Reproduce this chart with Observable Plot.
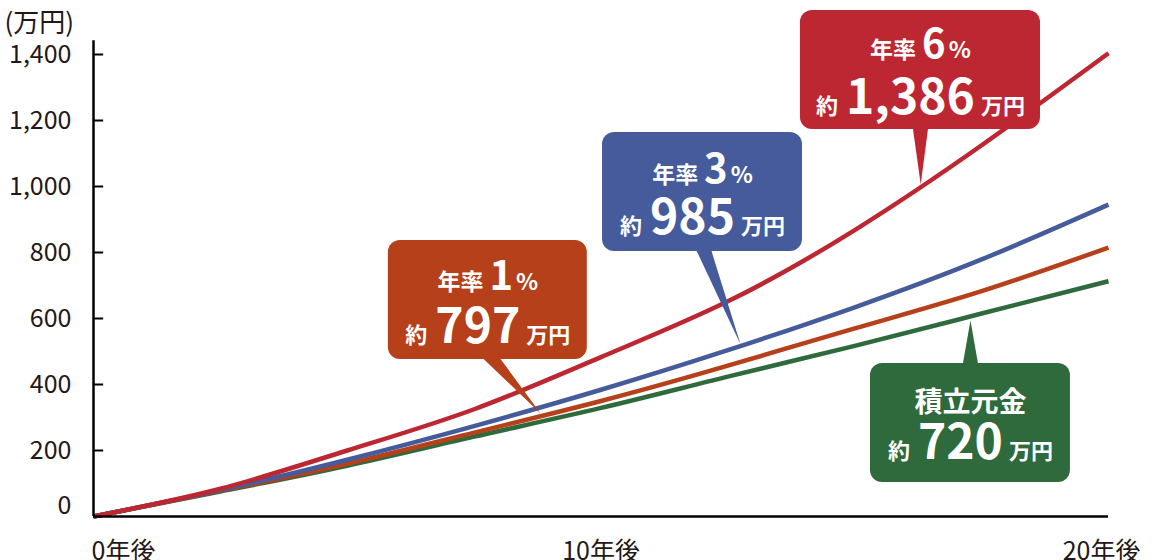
<!DOCTYPE html>
<html>
<head>
<meta charset="utf-8">
<script src="https://cdn.jsdelivr.net/npm/d3@7"></script>
<script src="https://cdn.jsdelivr.net/npm/@observablehq/plot@0.6"></script>
<style>
html, body { margin: 0; padding: 0; background: #fff; }
#chart svg { display: block; }
</style>
</head>
<body>
<div id="chart"></div>
<script>
// ---- data ----
const years     = [0, 2.5, 5, 7.5, 10, 12.5, 15, 17.5, 20];
const principal = [0, 76, 154, 242, 329, 424, 517, 615, 713];   // 積立元金
const rate1     = [0, 78, 160, 254, 350, 457, 570, 683, 815];   // 年率1%
const rate3     = [0, 80, 172, 274, 384, 504, 634, 779, 945];   // 年率3%
const rate6     = [0, 84, 200, 325, 483, 652, 868, 1125, 1404]; // 年率6%
const seriesValues = [principal, rate1, rate3, rate6];
const seriesColors = ["#2F6A3D", "#B5401A", "#455B9B", "#BC2732"];

const yTicks = [0, 200, 400, 600, 800, 1000, 1200, 1400];
const xTicks = [0, 10, 20];
const xTickLabels = ["0年後", "10年後", "20年後"];
const unitLabel = "(万円)";

// ---- callouts (order: 元金, 1%, 3%, 6%) ----
const calloutLine1 = ["積立元金", "年率|1|%", "年率|3|%", "年率|6|%"];
const calloutLine2 = ["約|720|万円", "約|797|万円", "約|985|万円", "約|1,386|万円"];
const boxX1     = [15.31, 5.81, 10.03, 13.93];
const boxX2     = [19.25, 9.73, 13.97, 18.66];
const boxTop    = [463.6, 836.4, 1163.6, 1533];
const boxBottom = [103, 475.8, 803, 1172.7];
const pointerX1 = [17.12, 7.63, 11.86, 16.14];
const pointerX2 = [17.44, 7.98, 12.16, 16.45];
const tipX      = [17.28, 8.81, 12.75, 16.30];
const tipY      = [594, 312, 521, 1006];
const line1Dy   = [48, 50, 50, 47];
const line2Dy   = [95, 103, 101, 103];

const FONT = "'Noto Sans CJK JP', 'Noto Sans', sans-serif";
const INK = "#231815";

const lineMarks = seriesValues.map((vals, s) =>
  Plot.line(years.map((t, i) => ({t, v: vals[i]})), {
    x: "t", y: "v", stroke: seriesColors[s], strokeWidth: 4.5,
    curve: "natural", strokeLinecap: "butt"
  })
);

const calloutMarks = calloutLine2.flatMap((_, i) => {
  const above = tipY[i] > boxTop[i];
  const baseY = above ? boxTop[i] - 10 : boxBottom[i] + 10;
  const tri = [
    {x: pointerX1[i], y: baseY},
    {x: tipX[i], y: tipY[i]},
    {x: pointerX2[i], y: baseY}
  ];
  const cx = (boxX1[i] + boxX2[i]) / 2;
  const isPlain = !calloutLine1[i].includes("|");
  return [
    Plot.rect([i], {x1: d => boxX1[d], x2: d => boxX2[d], y1: d => boxBottom[d], y2: d => boxTop[d],
      fill: seriesColors[i], rx: 12}),
    Plot.line(tri, {x: "x", y: "y", fill: seriesColors[i], stroke: "none"}),
    Plot.text([calloutLine1[i]], {x: cx, y: boxTop[i], dy: line1Dy[i], text: d => d,
      lineAnchor: "bottom", textAnchor: "middle", fill: "#fff", fontWeight: 700,
      fontSize: isPlain ? 28 : 23, fontFamily: FONT}),
    Plot.text([calloutLine2[i]], {x: cx, y: boxTop[i], dy: line2Dy[i], text: d => d,
      lineAnchor: "bottom", textAnchor: "middle", fill: "#fff", fontWeight: 700,
      fontSize: 22, fontFamily: FONT})
  ];
});

const chart = Plot.plot({
  width: 1170,
  height: 560,
  marginLeft: 93,
  marginRight: 62,
  marginTop: 54,
  marginBottom: 44,
  style: {fontFamily: FONT, background: "#fff", color: INK},
  x: {domain: [0, 20], axis: null},
  y: {domain: [0, 1400], axis: null},
  marks: [
    ...lineMarks,
    // axes
    Plot.ruleX([0], {y1: 0, y2: 1442, stroke: "#000", strokeWidth: 2.5}),
    Plot.ruleY([0], {x1: 0, x2: 20, stroke: "#000", strokeWidth: 2.5}),
    Plot.ruleY(yTicks.filter(d => d > 0), {y: d => d, x1: 0, x2: 0.2, stroke: "#000", strokeWidth: 2}),
    Plot.text(yTicks.filter(d => d > 0), {x: 0, y: d => d, text: d => d3.format(",")(d),
      textAnchor: "end", dx: -22, fontSize: 25, fill: INK, fontFamily: FONT}),
    Plot.text([0], {x: 0, y: 0, text: d => String(d), textAnchor: "end", dx: -22, dy: -11,
      fontSize: 25, fill: INK, fontFamily: FONT}),
    Plot.text(xTicks, {x: d => d, y: 0, text: (d, i) => xTickLabels[i],
      textAnchor: "start", dx: -2, dy: 35, fontSize: 25, fill: INK, fontFamily: FONT,
      filter: d => d === 0}),
    Plot.text(xTicks, {x: d => d, y: 0, text: (d, i) => xTickLabels[i],
      textAnchor: "middle", dy: 35, fontSize: 25, fill: INK, fontFamily: FONT,
      filter: d => d === 10}),
    Plot.text(xTicks, {x: d => d, y: 0, text: (d, i) => xTickLabels[i],
      textAnchor: "end", dx: 32, dy: 35, fontSize: 25, fill: INK, fontFamily: FONT,
      filter: d => d === 20}),
    Plot.text([unitLabel], {frameAnchor: "top-left", text: d => d, textAnchor: "start",
      dx: -89, dy: -41, fontSize: 26, fill: INK, fontFamily: FONT}),
    ...calloutMarks
  ]
});

// rich text: split "pre|big|post" into tspans with a larger number
const NS = "http://www.w3.org/2000/svg";
chart.querySelectorAll("text").forEach(t => {
  const s = t.textContent;
  if (!s.includes("|")) return;
  const [pre, big, post] = s.split("|");
  const second = pre === "約";
  t.textContent = "";
  const add = (str, attrs) => {
    const ts = document.createElementNS(NS, "tspan");
    ts.textContent = str;
    for (const k in attrs) ts.setAttribute(k, attrs[k]);
    t.appendChild(ts);
  };
  add(pre, {});
  add(big, {"font-size": second ? 48 : 40, dx: second ? 8 : 6});
  add(post, {dx: second ? 6 : 3});
});

document.getElementById("chart").appendChild(chart);
</script>
</body>
</html>
